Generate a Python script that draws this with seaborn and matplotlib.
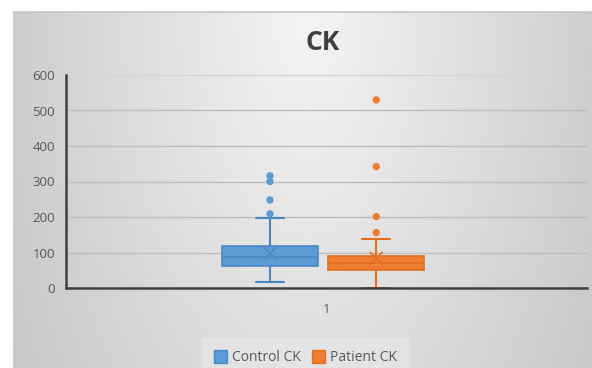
import numpy as np
import pandas as pd
import matplotlib
matplotlib.use("Agg")
import matplotlib.pyplot as plt
from matplotlib.patches import Patch
from matplotlib.lines import Line2D
import seaborn as sns

# Summary statistics of CK for the two groups
groups = ["Control CK", "Patient CK"]
q1 = [63, 51]
medians = [88, 70]
q3 = [118, 90]
means = [98, 84]
whisker_low = [16, 0]
whisker_high = [196, 137]
outliers = [[209, 248, 300, 316], [156, 201, 342, 530]]
category_labels = ["1"]
y_ticks = [0, 100, 200, 300, 400, 500, 600]

fills = ["#5b9bd5", "#ed7d31"]
edges = ["#4a88c4", "#e0701f"]
positions = [-0.217, 0.191]
box_width = 0.368

sns.set_theme(style="white")
plt.rcParams["font.family"] = ["Open Sans", "DejaVu Sans"]

W, H = 592, 368
fig = plt.figure(figsize=(W / 100, H / 100), dpi=100)
fig.patch.set_facecolor("white")

# Grey radial gradient panel behind the chart
px0, py_top = 13, 12
bg = fig.add_axes([px0 / W, 0, (W - px0) / W, (H - py_top) / H], zorder=-10)
gw, gh = W - px0, H - py_top
xx, yy = np.meshgrid(np.linspace(-1, 1, gw), np.linspace(0, 1, gh))
r = np.sqrt((xx - 0.02) ** 2 + (0.6 * yy) ** 2)
val = np.clip(0.958 - 0.15 * r, 0, 1)
bg.imshow(np.dstack([val, val, val]), aspect="auto", extent=[0, 1, 0, 1], origin="upper")
bg.axis("off")
fig.add_artist(Line2D([px0 / W, 1], [(H - py_top) / H] * 2, color="#c6c6c6", lw=1.2))

ax = fig.add_axes([66 / W, 80 / H, 521 / W, 213 / H])
ax.set_facecolor("none")

stats = []
for i in range(2):
    stats.append(dict(q1=q1[i], med=medians[i], q3=q3[i], mean=means[i],
                      whislo=whisker_low[i], whishi=whisker_high[i], fliers=[],
                      label=groups[i]))

for i in range(2):
    ax.bxp([stats[i]], positions=[positions[i]], widths=box_width, patch_artist=True,
           showfliers=False, showmeans=False, capwidths=[0.106],
           boxprops=dict(facecolor=fills[i], edgecolor=edges[i], linewidth=1.2),
           medianprops=dict(color=edges[i], linewidth=1.2),
           whiskerprops=dict(color=edges[i], linewidth=1.5),
           capprops=dict(color=edges[i], linewidth=1.5))

# Outliers and mean markers
pts = pd.DataFrame({
    "x": [positions[i] for i in range(2) for _ in outliers[i]],
    "y": [v for i in range(2) for v in outliers[i]],
    "group": [groups[i] for i in range(2) for _ in outliers[i]],
})
sns.scatterplot(data=pts, x="x", y="y", hue="group", palette=fills, s=28,
                edgecolor="none", legend=False, ax=ax, zorder=5)
mean_df = pd.DataFrame({"x": positions, "y": means, "group": groups})
sns.scatterplot(data=mean_df, x="x", y="y", hue="group", palette=edges, marker="x",
                s=85, linewidth=1.2, legend=False, ax=ax, zorder=6)

ax.set_xlim(-1, 1)
ax.set_ylim(0, 600)
ax.set_yticks(y_ticks)
ax.set_yticklabels([str(t) for t in y_ticks])
ax.set_xticks([0])
ax.set_xticklabels(category_labels)
ax.set_xlabel("")
ax.set_ylabel("")
ax.tick_params(axis="y", length=0, pad=8, labelsize=9.5, labelcolor="#595959")
ax.tick_params(axis="x", length=0, pad=11, labelsize=9.5, labelcolor="#595959")
for y in y_ticks[1:]:
    ax.axhline(y, color="#bdbdbd" if y < 600 else "#d4d4d4", lw=1.0, zorder=0,
               clip_on=False)
for s in ["top", "right"]:
    ax.spines[s].set_visible(False)
for s in ["left", "bottom"]:
    ax.spines[s].set_color("#404040")
    ax.spines[s].set_linewidth(1.8)
    ax.spines[s].set_zorder(7)

fig.text(323 / W, 1 - 43 / H, "CK", ha="center", va="center", fontsize=19,
         fontweight="bold", color="#404040")

handles = [Patch(facecolor=fills[i], edgecolor=edges[i], label=groups[i]) for i in range(2)]
leg = fig.legend(handles=handles, loc="upper center", bbox_to_anchor=(305.5 / W, 1 - 337 / H),
                 ncol=2, frameon=True, fancybox=False, fontsize=10, handlelength=0.95,
                 handleheight=1.05, handletextpad=0.4, columnspacing=0.75, borderpad=0.95,
                 borderaxespad=0, labelcolor="#595959")
leg.get_frame().set_facecolor("#e6e6e6")
leg.get_frame().set_edgecolor("#dcdcdc")

fig.savefig("out.png", dpi=100)
